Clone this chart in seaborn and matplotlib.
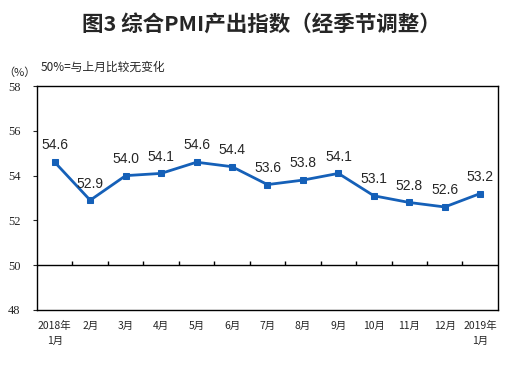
import numpy as np
import pandas as pd
import seaborn as sns
import matplotlib.pyplot as plt

# data
months = ['2018年\n1月', '2月', '3月', '4月', '5月', '6月', '7月', '8月', '9月',
          '10月', '11月', '12月', '2019年\n1月']
pmi = [54.6, 52.9, 54.0, 54.1, 54.6, 54.4, 53.6, 53.8, 54.1, 53.1, 52.8, 52.6, 53.2]
yticks = [48, 50, 52, 54, 56, 58]

sns.set_style('white')
plt.rcParams['font.family'] = ['Noto Sans CJK SC', 'DejaVu Sans']

df = pd.DataFrame({'pos': np.arange(len(months)), 'pmi': pmi})

fig = plt.figure(figsize=(5.22, 3.65), dpi=100)
ax = fig.add_axes([0.0709, 0.151, 0.883, 0.613])

line_col = '#1560B8'
sns.lineplot(data=df, x='pos', y='pmi', ax=ax, color=line_col, linewidth=2,
             marker='s', markersize=4.5, markeredgecolor=line_col, zorder=3)

# value labels above points
for x, v in zip(df['pos'], df['pmi']):
    ax.annotate(f'{v:.1f}', (x, v), textcoords='offset points', xytext=(0, 7),
                ha='center', va='bottom', fontsize=10, family='Liberation Sans')

# 50 baseline with small upward ticks between months
ax.axhline(50, color='black', linewidth=1)
bounds = np.arange(0.5, len(months) - 1, 1.0)
ax.vlines(bounds, 50, 50.18, color='black', linewidth=1)

ax.set_xlim(-0.5, len(months) - 0.5)
ax.set_ylim(48, 58)
ax.set_yticks(yticks)
ax.set_yticklabels([str(t) for t in yticks], family='Liberation Serif', fontsize=9)
ax.set_xticks(df['pos'])
ax.set_xticklabels(months, fontsize=7.5, linespacing=1.6)
ax.tick_params(axis='x', length=0, pad=8)
ax.tick_params(axis='y', direction='out', length=3, width=0.8, pad=9, left=True)
ax.set_xlabel('')
ax.set_ylabel('')
for s in ax.spines.values():
    s.set_color('black')
    s.set_linewidth(1)

fig.text(0.5, 0.932, '图3 综合PMI产出指数（经季节调整）', ha='center', va='center',
         fontsize=15.5, fontweight='bold')
fig.text(0.006, 0.80, '（%）', ha='left', va='center', fontsize=8)
fig.text(0.077, 0.815, '50%=与上月比较无变化', ha='left', va='center', fontsize=8.5)

fig.savefig('out.png', dpi=100)
